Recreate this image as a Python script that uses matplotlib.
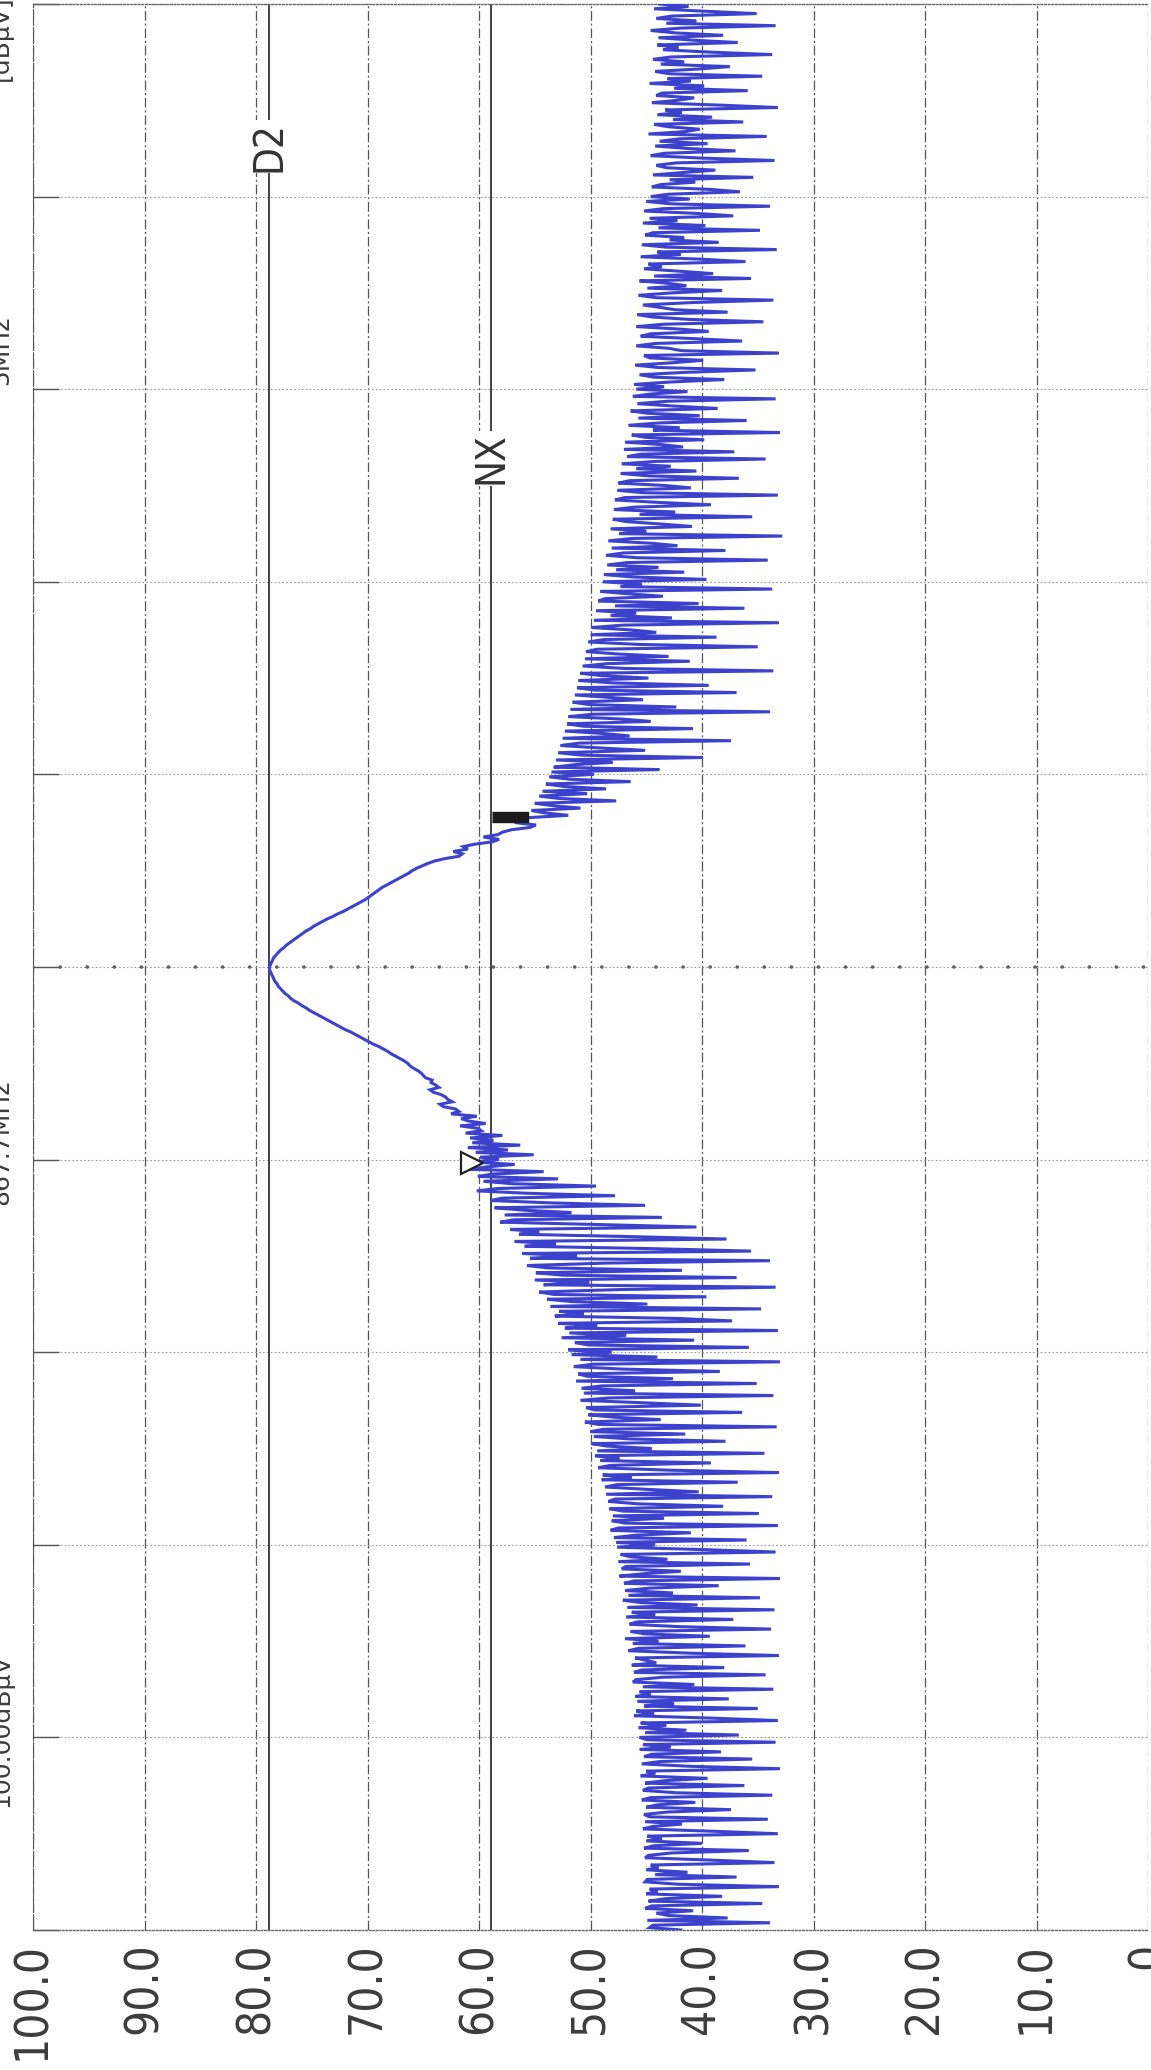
import numpy as np
import matplotlib
matplotlib.use('Agg')
import matplotlib.pyplot as plt

plt.rcParams['lines.scale_dashes'] = False
plt.rcParams['font.family'] = ['DejaVu Sans']

# sweep, 801 points, top of the sheet (870.2 MHz) down to 865.2 MHz
noise_upper = [
    # 870.2 .. 869.7
    43.8, 41.2, 44.3, 39.6, 35.1, 42.7, 44.1, 40.5, 43.2, 33.4, 41.9, 44.6, 42.4, 38.1, 43.9, 40.9, 36.8, 44.0, 42.1, 43.5,
    39.2, 33.7, 42.8, 44.4, 41.6, 43.7, 37.5, 40.3, 44.2, 42.9, 34.6, 43.1, 41.0, 44.7, 39.8, 42.5, 35.9, 43.6, 44.1, 40.7,
    42.2, 44.5, 38.4, 33.2, 43.3, 41.8, 44.0, 39.1, 42.6, 36.3, 44.3, 43.0, 40.2, 41.5, 44.8, 34.2, 42.0, 43.8, 39.5, 44.2,
    41.3, 37.0, 43.4, 44.6, 40.0, 33.5, 42.3, 44.1, 43.2, 38.8, 41.7, 44.4, 35.4, 42.9, 40.6, 43.7, 44.5, 39.3, 36.6, 43.0,
    # 869.7 .. 869.2
    44.6, 41.1, 45.0, 42.8, 33.9, 43.5, 45.2, 40.4, 37.2, 44.7, 42.2, 45.3, 39.7, 43.9, 34.8, 44.4, 45.1, 41.6, 42.9, 38.5,
    45.4, 43.2, 33.3, 44.0, 41.9, 45.5, 40.1, 36.1, 44.8, 43.6, 45.2, 42.0, 39.0, 44.3, 35.6, 45.6, 43.1, 41.4, 44.9, 38.2,
    42.7, 45.7, 44.1, 33.6, 40.8, 45.3, 43.8, 42.4, 37.7, 45.8, 44.5, 41.2, 34.5, 43.4, 45.9, 42.1, 39.4, 44.6, 45.5, 40.7,
    36.4, 44.2, 45.9, 43.0, 41.8, 33.1, 45.2, 44.7, 39.9, 42.6, 46.0, 43.9, 35.2, 41.5, 45.6, 44.3, 38.0, 42.8, 46.1, 43.4,
    # 869.2 .. 868.7
    45.9, 41.3, 44.6, 46.2, 33.4, 43.1, 45.8, 42.5, 38.6, 46.4, 44.9, 40.2, 45.7, 36.0, 43.8, 46.6, 42.0, 44.4, 33.0, 46.3,
    45.1, 39.8, 46.9, 43.6, 41.7, 47.0, 37.1, 45.5, 46.7, 34.3, 44.2, 47.2, 42.8, 45.9, 40.5, 47.3, 44.8, 36.7, 46.5, 47.5,
    43.3, 41.0, 47.6, 45.2, 33.2, 46.9, 47.8, 44.0, 39.2, 46.1, 47.9, 42.4, 45.6, 35.5, 48.0, 46.8, 43.7, 40.9, 48.2, 45.0,
    47.4, 32.8, 46.3, 48.4, 44.5, 42.2, 48.1, 37.9, 47.0, 48.6, 45.8, 34.1, 46.7, 48.5, 43.9, 47.7, 41.6, 48.8, 46.2, 39.6,
    # 868.7 .. 868.2
    48.9, 45.4, 47.3, 33.7, 49.1, 46.6, 43.5, 48.7, 49.3, 40.3, 47.8, 36.2, 49.5, 45.9, 48.2, 42.7, 49.7, 33.1, 47.1, 49.9,
    46.3, 44.1, 50.0, 38.7, 48.8, 50.2, 45.7, 35.0, 49.4, 50.4, 47.5, 43.0, 50.5, 41.1, 48.5, 50.7, 46.9, 33.6, 50.9, 49.0,
    44.8, 51.1, 47.9, 39.4, 51.2, 49.6, 36.9, 51.4, 48.3, 45.3, 51.6, 50.1, 42.3, 51.8, 33.9, 49.8, 52.0, 47.2, 44.6, 52.1,
    50.6, 40.8, 52.3, 48.9, 46.5, 52.5, 37.4, 51.0, 52.7, 49.2, 45.1, 52.9, 50.8, 39.9, 53.1, 48.0, 51.5, 53.3, 43.8, 53.5,
    # 868.2 .. 868.075
    49.7, 53.7, 51.9, 46.4, 54.0, 52.4, 48.6, 54.3, 50.3, 54.6, 52.8, 47.7, 55.0, 53.4, 50.9, 55.3, 54.1, 52.0, 55.7, 56.1,
]
carrier = [
    # rising side, 868.075 .. 867.7
    56.8, 54.9, 55.4, 57.1, 57.9, 58.3, 59.6, 58.2, 58.8, 60.4, 61.4, 61.0, 62.3, 61.5, 61.8, 63.1, 64.0, 64.6, 65.1, 65.6,
    66.0, 66.3, 66.7, 67.1, 67.5, 67.9, 68.3, 68.7, 69.0, 69.3, 69.6, 69.9, 70.2, 70.6, 71.0, 71.4, 71.8, 72.2, 72.7, 73.1,
    73.6, 74.0, 74.4, 74.8, 75.1, 75.5, 75.8, 76.1, 76.4, 76.7, 77.0, 77.3, 77.5, 77.8, 78.0, 78.2, 78.4, 78.5, 78.6, 78.7,
    78.8,
    # falling side, 867.7 .. 867.0
    78.8, 78.7, 78.6, 78.5, 78.4, 78.3, 78.1, 78.0, 77.8, 77.6, 77.4, 77.1, 76.9, 76.6, 76.2, 75.9, 75.5, 75.2, 74.8, 74.4,
    74.0, 73.6, 73.2, 72.8, 72.4, 72.0, 71.5, 71.1, 70.7, 70.3, 69.9, 69.5, 69.0, 68.6, 68.2, 67.9, 67.5, 67.1, 66.7, 66.4,
    66.2, 65.9, 65.5, 65.2, 65.0, 64.8, 64.2, 64.3, 63.9, 63.6, 64.4, 64.1, 63.4, 63.0, 62.8, 62.4, 63.5, 63.2, 62.1, 61.8,
    62.5, 60.2, 61.6, 60.9, 59.4, 61.7, 60.1, 59.8, 61.2, 57.9, 60.8, 58.7, 60.6, 56.3, 61.0, 57.4, 60.3, 55.1, 59.9, 58.2,
]
noise_lower = [
    # 867.2 .. 866.7
    60.7, 56.8, 59.2, 61.0, 54.2, 58.8, 60.1, 52.9, 59.6, 57.1, 49.5, 58.3, 60.2, 55.6, 47.8, 57.9, 59.0, 53.4, 45.1, 58.6,
    56.0, 51.7, 57.7, 43.6, 56.9, 58.1, 49.0, 40.5, 57.2, 54.6, 56.4, 46.2, 37.8, 56.8, 53.1, 55.9, 44.3, 35.6, 56.1, 51.2,
    55.4, 33.9, 48.7, 55.7, 53.8, 41.8, 54.9, 52.5, 36.9, 55.0, 50.1, 54.2, 33.4, 47.5, 54.6, 53.3, 39.6, 53.9, 51.6, 44.9,
    53.6, 34.7, 52.8, 50.6, 53.2, 42.1, 37.3, 52.9, 49.4, 52.3, 33.2, 51.9, 46.8, 52.6, 40.7, 51.4, 50.2, 35.8, 52.0, 48.1,
    # 866.7 .. 866.2
    51.7, 44.0, 50.9, 33.0, 49.8, 51.5, 47.2, 38.4, 51.1, 50.3, 42.6, 51.3, 35.1, 49.0, 50.8, 46.0, 50.6, 33.6, 48.4, 50.9,
    45.3, 40.1, 50.4, 49.6, 36.4, 50.2, 47.9, 43.7, 50.5, 49.3, 33.3, 48.8, 50.0, 41.5, 49.7, 46.6, 37.9, 49.9, 48.5, 44.5,
    49.4, 34.4, 49.6, 47.4, 49.1, 39.2, 48.2, 49.3, 42.9, 33.1, 48.9, 46.3, 49.0, 36.8, 47.6, 48.7, 44.8, 40.3, 48.6, 33.7,
    47.8, 48.4, 45.7, 38.1, 48.3, 47.1, 34.9, 48.0, 43.4, 48.1, 46.9, 33.2, 47.5, 48.2, 41.0, 45.9, 47.9, 36.0, 47.7, 44.2,
    # 866.2 .. 865.7
    47.6, 39.8, 33.4, 47.3, 46.4, 43.1, 47.5, 35.7, 46.8, 47.2, 41.9, 45.2, 47.4, 33.0, 46.1, 47.0, 38.5, 44.7, 46.9, 42.6,
    46.6, 34.8, 47.1, 45.5, 40.4, 46.7, 33.5, 46.3, 44.2, 46.8, 37.2, 45.8, 46.5, 42.0, 33.8, 46.4, 45.1, 39.3, 46.9, 43.9,
    46.2, 36.1, 45.7, 46.6, 41.2, 33.1, 46.0, 45.0, 44.1, 46.3, 38.0, 45.4, 46.1, 34.3, 43.5, 45.9, 46.2, 40.7, 45.3, 33.6,
    45.6, 44.6, 46.0, 37.6, 45.8, 42.5, 45.2, 35.0, 45.9, 44.3, 46.1, 39.1, 33.2, 45.5, 43.2, 45.7, 41.4, 45.1, 36.7, 45.6,
    # 865.7 .. 865.2
    44.9, 33.4, 45.3, 42.8, 45.6, 38.3, 44.5, 45.2, 35.5, 43.7, 45.4, 41.1, 33.0, 45.0, 44.2, 45.5, 39.5, 43.4, 45.1, 36.2,
    44.8, 45.3, 42.3, 33.7, 44.6, 45.4, 40.6, 44.0, 45.0, 37.4, 43.1, 45.2, 44.7, 34.1, 45.1, 41.8, 44.4, 45.3, 38.9, 33.2,
    44.9, 43.6, 45.0, 40.0, 44.3, 45.2, 35.8, 42.7, 44.8, 45.1, 39.0, 33.5, 44.6, 43.9, 45.0, 41.3, 44.2, 36.9, 44.9, 45.1,
    42.1, 33.1, 44.7, 44.0, 45.0, 38.2, 43.3, 44.8, 34.6, 44.5, 45.1, 40.8, 44.1, 43.0, 37.7, 44.9, 33.9, 44.4, 44.7, 41.9,
]
level = noise_upper + carrier + noise_lower

f_start, f_stop = 865.2, 870.2
center_freq = 867.7
freq = np.linspace(f_stop, f_start, len(level))

db_ticks = [100, 90, 80, 70, 60, 50, 40, 30, 20, 10, 0]
db_labels = ['100.0', '90.0', '80.0', '70.0', '60.0', '50.0', '40.0', '30.0', '20.0', '10.0', '0']
freq_grid = np.linspace(f_start, f_stop, 11)

line_names = ['D2', 'NX']
line_levels = [78.8, 58.9]
line_label_freq = [869.83, 869.02]

marker_freq = [867.19, 868.09]
marker_level = [60.6, 57.2]

header_texts = ['[dBµV]', '5MHz', '867.7MHz', '100.00dBµV']
header_pos = [38, 350, 1142, 1730]   # pixel rows of the cut-off header on the left edge

W, H = 1151, 2070
fig = plt.figure(figsize=(W / 100, H / 100), dpi=100)
ax = fig.add_axes([33 / W, 1 - 1930 / H, (1148 - 33) / W, (1930 - 4) / H])

ink = '#3c3c3c'
blue = '#3d42cc'

# grid
for d in db_ticks:
    ax.axvline(d, color='#555555', lw=0.9, ls=(0, (7, 2, 1.5, 2)), zorder=1)
for f in freq_grid:
    ax.axhline(f, color='#9a9a9a', lw=0.8, ls=(0, (1.2, 1.6)), zorder=1)
ax.axhline(center_freq, color='#606060', lw=2.6, ls=(0, (0.1, 19.4)),
           dash_capstyle='round', zorder=2)

# display lines
for name, lv, lf in zip(line_names, line_levels, line_label_freq):
    ax.axvline(lv, color='#333333', lw=1.3, zorder=2)
    ax.text(lv, lf, name, rotation=90, ha='center', va='center', fontsize=29,
            fontstretch='condensed', color='#333333', zorder=3,
            bbox=dict(facecolor='white', edgecolor='none', pad=1.0))

# trace
ax.plot(level, freq, color=blue, lw=2.2, solid_joinstyle='miter', zorder=4)

# markers
ax.plot(marker_level[0], marker_freq[0], marker='>', ms=16, mfc='white',
        mec='#222222', mew=1.6, ls='none', zorder=5)
ax.plot(marker_level[1], marker_freq[1], marker=[(-1, -0.3), (1, -0.3), (1, 0.3), (-1, 0.3)],
        ms=26, mfc='#1a1a1a', mec='#1a1a1a', ls='none', zorder=5)

ax.set_xlim(100, 0)
ax.set_ylim(f_start, f_stop)
ax.set_xticks(db_ticks)
ax.set_xticklabels(db_labels, rotation=90, fontsize=33, fontstretch='condensed', color=ink)
ax.tick_params(axis='x', length=0, pad=9)
ax.set_yticks(freq_grid)
ax.tick_params(axis='y', direction='in', length=19, width=1.0, color='#555555',
               labelleft=False)

ax.spines['left'].set_linestyle((0, (5, 1.5)))
ax.spines['left'].set_color('#555555')
ax.spines['right'].set_visible(False)
for s in ['top', 'bottom']:
    ax.spines[s].set_linestyle((0, (1.2, 1.4)))
    ax.spines[s].set_color('#666666')
    ax.spines[s].set_linewidth(1.0)

# cut-off header printed along the left edge
for txt, py in zip(header_texts, header_pos):
    fig.text(13 / W, 1 - py / H, txt, rotation=90, ha='right', va='center',
             fontsize=18, color=ink)

fig.savefig('out.png', dpi=100)
